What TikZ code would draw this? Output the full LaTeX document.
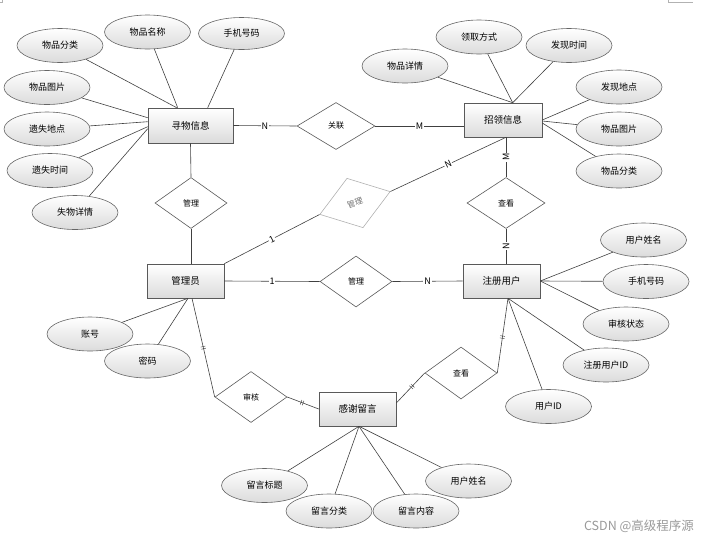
\documentclass[tikz,border=0pt]{standalone}
\usepackage{fontspec}
\setmainfont{Noto Sans CJK SC}
\usetikzlibrary{shapes.geometric,decorations.markings,shadows,calc}
\newcommand{\fsz}[1]{\fontsize{#1}{#1}\selectfont}
\begin{document}
\begin{tikzpicture}[x=1pt,y=-1pt,
  ent/.style={rectangle,draw=black!65,line width=0.6pt,minimum width=77pt,minimum height=34pt,inner sep=0pt,
    top color=white,bottom color=black!14,drop shadow={shadow xshift=1pt,shadow yshift=-1pt,fill=black!35,opacity=0.6},font=\fsz{9.5}},
  attr/.style={ellipse,draw=black!60,line width=0.6pt,minimum width=86pt,minimum height=34pt,inner sep=0pt,
    top color=white,bottom color=black!14,font=\fsz{9}},
  rel/.style={diamond,draw=black!65,line width=0.6pt,fill=white,minimum width=72pt,minimum height=51pt,inner sep=0pt,font=\fsz{8}},
  con/.style={draw=black!75,line width=0.6pt},
  card/.style={fill=white,inner sep=0.8pt,font=\fsz{9}},
  dtick/.style={postaction={decorate},decoration={markings,mark=at position #1 with {\draw[line width=0.45pt,black!75] (-1.1pt,-2.4pt) -- (-1.1pt,2.4pt) (1.1pt,-2.4pt) -- (1.1pt,2.4pt);}}}
]
\useasboundingbox (0,0) rectangle (707,539);

% entities
\node[ent,minimum width=85pt,minimum height=35pt] (xw) at (190.5,125.5) {寻物信息};
\node[ent,minimum width=78pt] (zl) at (503,120) {招领信息};
\node[ent] (gly) at (185.5,281) {管理员};
\node[ent] (zc) at (501.5,281) {注册用户};
\node[ent] (gx) at (357.5,409) {感谢留言};

% relationships
\node[rel,minimum width=78pt,minimum height=47pt] (gl) at (336,126) {关联};
\node[rel,minimum width=78pt] (ck1) at (506,203) {查看};
\node[rel] (gl1) at (191,203) {管理};
\node[rel] (gl2) at (356,281.5) {管理};
\node[rel,minimum height=52pt] (ck2) at (461,373) {查看};
\node[rel] (sh) at (251,397) {审核};
\node[rel,rotate=18,minimum width=74pt,minimum height=52pt,draw=black!30,text=black!55] (gm) at (355,203) {管理};

% attributes of 寻物信息
\node[attr] (a1) at (60,45.5) {物品分类};
\node[attr] (a2) at (147.5,32) {物品名称};
\node[attr,minimum height=32pt] (a3) at (241.5,33.5) {手机号码};
\node[attr] (a4) at (47,87.5) {物品图片};
\node[attr] (a5) at (47,129) {遗失地点};
\node[attr] (a6) at (50,170.5) {遗失时间};
\node[attr] (a7) at (75,212.5) {失物详情};
% attributes of 招领信息
\node[attr] (b1) at (405,66) {物品详情};
\node[attr] (b2) at (479,37) {领取方式};
\node[attr] (b3) at (569,45.5) {发现时间};
\node[attr] (b4) at (619,87) {发现地点};
\node[attr] (b5) at (619,129) {物品图片};
\node[attr] (b6) at (619,171) {物品分类};
% attributes of 注册用户
\node[attr] (c1) at (643.5,240) {用户姓名};
\node[attr] (c2) at (646,281.5) {手机号码};
\node[attr] (c3) at (626,324) {审核状态};
\node[attr] (c4) at (606,365) {注册用户ID};
\node[attr] (c5) at (548.5,406.5) {用户ID};
% attributes of 管理员
\node[attr] (d1) at (90,334) {账号};
\node[attr] (d2) at (147.5,361) {密码};
% attributes of 感谢留言
\node[attr] (e1) at (264.5,485.5) {留言标题};
\node[attr] (e2) at (329,511) {留言分类};
\node[attr] (e3) at (416,511) {留言内容};
\node[attr] (e4) at (468.5,481) {用户姓名};

% attribute connectors
\draw[con] (a1) -- ($(xw.north west)+(29,0)$);
\draw[con] (a2) -- ($(xw.north west)+(30,0)$);
\draw[con] (a3) -- ($(xw.north west)+(60,0)$);
\draw[con] (a4) -- ($(xw.north west)+(0,10)$);
\draw[con] (a5) -- ($(xw.north west)+(0,14)$);
\draw[con] (a6) -- ($(xw.north west)+(0,19)$);
\draw[con] (a7) -- ($(xw.north west)+(0,21)$);

\draw[con] (b1) -- ($(zl.north west)+(49,0)$);
\draw[con] (b2) -- ($(zl.north west)+(49,0)$);
\draw[con] (b3) -- ($(zl.north west)+(49,0)$);
\draw[con] (b4) -- (zl.east);
\draw[con] (b5) -- ($(zl.east)+(0,1)$);
\draw[con] (b6) -- ($(zl.east)+(0,3)$);

\draw[con] (c1) -- (zc.east);
\draw[con] (c2) -- (zc.east);
\draw[con] (c3) -- (zc.east);
\draw[con] (c4) -- ($(zc.south)+(6.5,0)$);
\draw[con] (c5) -- ($(zc.south)+(6.5,0)$);

\draw[con] (d1) -- ($(gly.south)+(2.5,0)$);
\draw[con] (d2) -- ($(gly.south)+(2.5,0)$);

\draw[con] (e1) -- ($(gx.south)+(1.5,0)$);
\draw[con] (e2) -- ($(gx.south)+(1.5,0)$);
\draw[con] (e3) -- ($(gx.south)+(1.5,0)$);
\draw[con] (e4) -- ($(gx.south)+(1.5,0)$);

% relationship connectors
\draw[con] (xw.east) -- node[card,pos=0.5] {N} (gl.west);
\draw[con] (gl.east) -- node[card,pos=0.5] {M} (gl.east -| zl.west);
\draw[con] (xw.south) -- (gl1.north);
\draw[con] (gl1.south) -- (gl1.south |- gly.north);
\draw[con] (gly.east) -- node[card,pos=0.5] {1} (gl2.west);
\draw[con] (gl2.east) -- node[card,pos=0.5] {N} (zc.west);
\draw[con] (ck1.north |- zl.south) -- node[card,pos=0.5,rotate=90] {M} (ck1.north);
\draw[con] (ck1.south) -- node[card,pos=0.5,rotate=90] {N} (ck1.south |- zc.north);
\draw[con] (gly.north east) -- node[card,pos=0.5,rotate=27] {1} (gm.west);
\draw[con] (gm.east) -- node[card,pos=0.5,rotate=25] {N} (ck1.north |- zl.south);
\draw[con,dtick=0.5] ($(gly.south)+(6.5,0)$) -- (sh.west);
\draw[con,dtick=0.47] (sh.east) -- (gx.west);
\draw[con,dtick=0.45] (ck2.west) -- ($(gx.east)+(0,-6)$);
\draw[con,dtick=0.52] ($(zc.south)+(6.5,0)$) -- (ck2.east);

% corner marks
\draw[black!30,line width=0.6pt] (668,0) -- (668,2.5) -- (693,2.5);
\draw[black!30,line width=0.6pt] (0,2.5) -- (2.5,2.5) -- (2.5,0);

% watermark
\node[text=black!40,font=\fsz{12.5},inner sep=0pt] (wm) at (639,526) {CSDN @高级程序源};
\end{tikzpicture}
\end{document}
